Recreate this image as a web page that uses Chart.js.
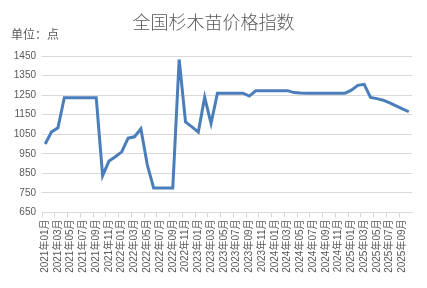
<!DOCTYPE html>
<html>
<head>
<meta charset="utf-8">
<script src="https://cdn.jsdelivr.net/npm/chart.js@4/dist/chart.umd.min.js"></script>
<style>
  html, body { margin: 0; padding: 0; background: #fff; }
  #wrap { position: relative; width: 427px; height: 288px; overflow: hidden; }
  #title { position: absolute; left: 0; width: 427px; top: 8px; text-align: center; line-height: 26px;
    font-family: "Noto Sans CJK SC", sans-serif; font-weight: 300; font-size: 18px; color: #595959; }
  #unit { position: absolute; left: 11px; top: 25px; line-height: 18px;
    font-family: "Noto Sans CJK SC", sans-serif; font-size: 12px; color: #595959; }
  canvas { position: absolute; left: 0; top: 0; }
</style>
</head>
<body>
<div id="wrap">
  <canvas id="c" width="427" height="288"></canvas>
  <div id="title">全国杉木苗价格指数</div>
  <div id="unit">单位：点</div>
</div>
<script>
const categories = [
  "2021年01月","2021年02月","2021年03月","2021年04月","2021年05月","2021年06月","2021年07月","2021年08月","2021年09月","2021年10月","2021年11月","2021年12月",
  "2022年01月","2022年02月","2022年03月","2022年04月","2022年05月","2022年06月","2022年07月","2022年08月","2022年09月","2022年10月","2022年11月","2022年12月",
  "2023年01月","2023年02月","2023年03月","2023年04月","2023年05月","2023年06月","2023年07月","2023年08月","2023年09月","2023年10月","2023年11月","2023年12月",
  "2024年01月","2024年02月","2024年03月","2024年04月","2024年05月","2024年06月","2024年07月","2024年08月","2024年09月","2024年10月","2024年11月","2024年12月",
  "2025年01月","2025年02月","2025年03月","2025年04月","2025年05月","2025年06月","2025年07月","2025年08月","2025年09月","2025年10月"
];
const priceIndex = [
  1000, 1062, 1083, 1237, 1237, 1237, 1237, 1237, 1237, 838, 913, 935,
  960, 1030, 1037, 1078, 895, 775, 775, 775, 775, 1432, 1113, 1088,
  1061, 1239, 1105, 1260, 1260, 1260, 1260, 1260, 1245, 1272, 1273, 1273,
  1273, 1273, 1273, 1263, 1261, 1260, 1260, 1260, 1260, 1260, 1260, 1260,
  1275, 1300, 1305, 1238, 1232, 1224, 1210, 1195, 1180, 1165
];
const yMin = 650, yMax = 1450, yStep = 100;

new Chart(document.getElementById('c'), {
  type: 'line',
  data: {
    labels: categories,
    datasets: [{
      label: '全国杉木苗价格指数',
      data: priceIndex,
      borderColor: '#4A7EBB',
      borderWidth: 3,
      pointRadius: 0,
      tension: 0,
      fill: false
    }]
  },
  options: {
    responsive: false,
    animation: false,
    layout: { padding: { left: 0, right: 15, top: 56, bottom: 0 } },
    plugins: { legend: { display: false }, title: { display: false }, tooltip: { enabled: false } },
    scales: {
      x: {
        offset: true,
        grid: {
          offset: true,
          drawOnChartArea: false,
          drawTicks: true,
          tickLength: 5,
          color: (ctx) => (ctx.index % 2 === 0 ? '#d9d9d9' : 'rgba(0,0,0,0)')
        },
        border: { display: true, color: '#d9d9d9', width: 1 },
        ticks: {
          autoSkip: false,
          maxRotation: 90,
          minRotation: 90,
          padding: 2,
          color: '#595959',
          font: { family: 'Liberation Sans, "Noto Sans CJK SC", sans-serif', size: 10 },
          callback: function(v, i) { return i % 2 === 0 ? categories[i] : ''; }
        },
        afterFit: (s) => { s.height = 75.5; }
      },
      y: {
        min: yMin,
        max: yMax,
        ticks: {
          stepSize: yStep,
          padding: 6,
          color: '#595959',
          font: { family: 'Liberation Sans, sans-serif', size: 10 },
          callback: (v) => String(v)
        },
        grid: { color: '#d9d9d9', lineWidth: 1, drawTicks: false },
        border: { display: false },
        afterFit: (s) => { s.width = 42; }
      }
    }
  }
});
</script>
</body>
</html>
